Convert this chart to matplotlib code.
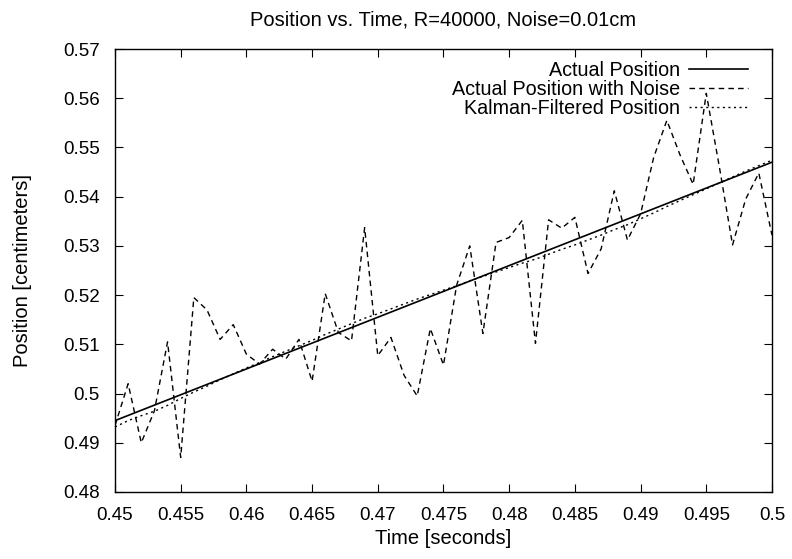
import numpy as np
import matplotlib
matplotlib.use("Agg")
import matplotlib.pyplot as plt

# time samples (seconds), one per millisecond
time_s = np.round(np.arange(0.450, 0.5005, 0.001), 3)

# actual position: straight line between the end points
actual_start = 0.4945
actual_end = 0.5470

noisy_pos = [
    0.4935, 0.5020, 0.4900, 0.4965, 0.5105, 0.4870, 0.5195, 0.5170, 0.5110, 0.5140,
    0.5080, 0.5060, 0.5090, 0.5070, 0.5110, 0.5025, 0.5203, 0.5124, 0.5107, 0.5337,
    0.5077, 0.5114, 0.5037, 0.4995, 0.5132, 0.5058, 0.5220, 0.5300, 0.5122, 0.5307,
    0.5317, 0.5352, 0.5102, 0.5353, 0.5336, 0.5358, 0.5244, 0.5294, 0.5412, 0.5312,
    0.5365, 0.5480, 0.5555, 0.5485, 0.5425, 0.5610, 0.5460, 0.5302, 0.5395, 0.5448,
    0.5322,
]

kalman_pos = [
    0.4932, 0.4945, 0.4955, 0.4964, 0.4976, 0.4990, 0.5003, 0.5015, 0.5028, 0.5040,
    0.5052, 0.5063, 0.5075, 0.5086, 0.5097, 0.5108, 0.5120, 0.5131, 0.5142, 0.5153,
    0.5162, 0.5172, 0.5182, 0.5192, 0.5201, 0.5210, 0.5219, 0.5229, 0.5238, 0.5247,
    0.5256, 0.5265, 0.5273, 0.5283, 0.5293, 0.5302, 0.5312, 0.5322, 0.5333, 0.5343,
    0.5355, 0.5367, 0.5380, 0.5392, 0.5404, 0.5416, 0.5428, 0.5440, 0.5452, 0.5463,
    0.5474,
]

x_ticks = [0.45, 0.455, 0.46, 0.465, 0.47, 0.475, 0.48, 0.485, 0.49, 0.495, 0.5]
x_labels = ["0.45", "0.455", "0.46", "0.465", "0.47", "0.475", "0.48", "0.485", "0.49", "0.495", "0.5"]
y_ticks = [0.48, 0.49, 0.5, 0.51, 0.52, 0.53, 0.54, 0.55, 0.56, 0.57]
y_labels = ["0.48", "0.49", "0.5", "0.51", "0.52", "0.53", "0.54", "0.55", "0.56", "0.57"]

plt.rcParams["font.family"] = ["Liberation Sans", "DejaVu Sans"]

fig = plt.figure(figsize=(7.92, 5.59), dpi=100)
ax = fig.add_axes([0.1452, 0.1199, 0.8295, 0.7924])

ax.plot([time_s[0], time_s[-1]], [actual_start, actual_end], color="black",
        linewidth=1.2, label="Actual Position")
ax.plot(time_s, noisy_pos, color="black", linewidth=1.0, linestyle=(0, (4, 3)),
        label="Actual Position with Noise")
ax.plot(time_s, kalman_pos, color="black", linewidth=1.0, linestyle=(0, (1.5, 2.5)),
        label="Kalman-Filtered Position")

ax.set_xlim(0.45, 0.5)
ax.set_ylim(0.48, 0.57)
ax.set_xticks(x_ticks)
ax.set_xticklabels(x_labels)
ax.set_yticks(y_ticks)
ax.set_yticklabels(y_labels)
ax.tick_params(direction="in", top=True, right=True, length=6, labelsize=13.5)
ax.tick_params(axis="x", pad=10.5)
ax.tick_params(axis="y", pad=11)
for s in ax.spines.values():
    s.set_linewidth(1.0)

ax.set_title("Position vs. Time, R=40000, Noise=0.01cm", fontsize=14.5, pad=17)
ax.set_xlabel("Time [seconds]", fontsize=14.5, labelpad=4)
ax.set_ylabel("Position [centimeters]", fontsize=14.5, labelpad=22)

ax.legend(loc="upper right", bbox_to_anchor=(0.9635, 0.973), frameon=False,
          markerfirst=False, fontsize=14.2, handlelength=3.0, handletextpad=0.45,
          labelspacing=0.0, borderaxespad=0, borderpad=0)
for t in ax.get_legend().get_texts():
    t.set_ha("right")

fig.savefig("out.png", dpi=100)
